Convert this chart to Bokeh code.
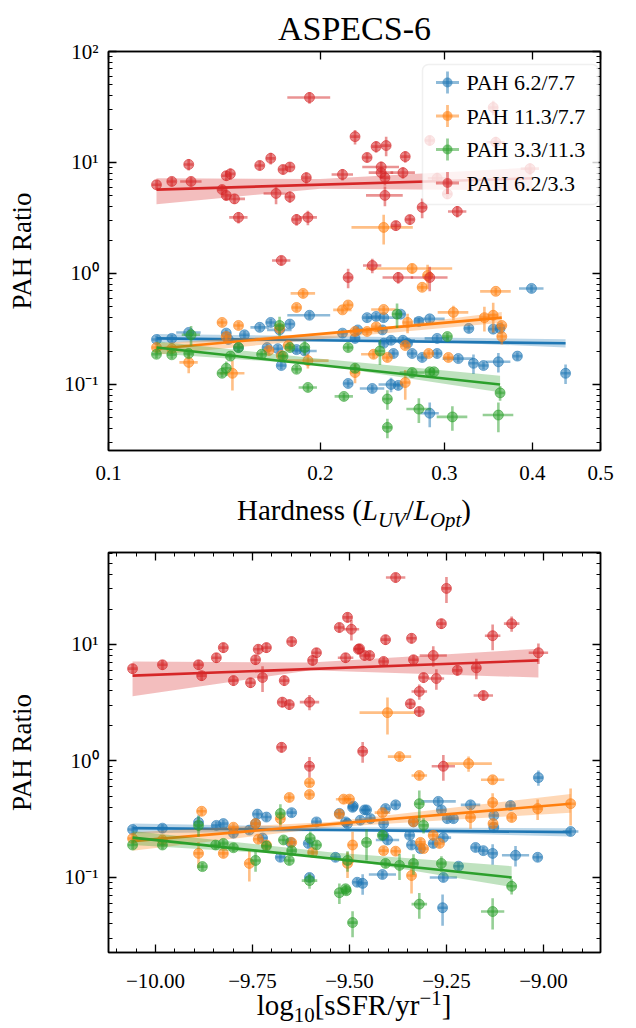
import numpy as np
from bokeh.plotting import figure
from bokeh.models import (FixedTicker, LinearAxis, BoxAnnotation, Range1d, Div, Label,
                          CustomJSTickFormatter, PrintfTickFormatter)
from bokeh.layouts import column
from bokeh.embed import file_html
from bokeh.resources import INLINE

SERIES = ["PAH 6.2/7.7", "PAH 11.3/7.7", "PAH 3.3/11.3", "PAH 6.2/3.3"]
COLORS = ["#1f77b4", "#ff7f0e", "#2ca02c", "#d62728"]

# ---------------- top panel : hardness (x), ratio (y); errors are relative ----------------
hx_b = [0.117,0.123,0.130,0.147,0.148,0.156,0.153,0.164,0.170,0.175, 0.181,0.193,0.168,0.174,0.176,0.185,0.190,0.219,0.224,0.215,
        0.233,0.240,0.246,0.260,0.286,0.276,0.245,0.252,0.246,0.262, 0.266,0.270,0.279,0.254,0.293,0.293,0.314,0.325,0.330,0.341,
        0.358,0.352,0.360,0.381,0.399,0.446,0.252,0.258,0.237,0.286, 0.226]
hy_b = [0.254,0.26,0.294,0.29,0.254,0.28,0.215,0.327,0.362,0.31, 0.35,0.42,0.215,0.21,0.148,0.206,0.20,0.102,0.26,0.29,
        0.40,0.41,0.40,0.43,0.39,0.37,0.31,0.25,0.235,0.25, 0.235,0.19,0.175,0.19,0.26,0.19,0.171,0.32,0.155,0.148,
        0.16,0.315,0.32,0.18,0.733,0.126,0.10,0.098,0.092,0.055, 0.31]
hxe_b = [0.015,0.015,0.04,0.015,0.015,0.015,0.015,0.03,0.015,0.04, 0.015,0.07,0.015,0.015,0.015,0.015,0.04,0.015,0.015,0.015,
         0.015,0.015,0.05,0.015,0.05,0.015,0.015,0.015,0.015,0.04, 0.015,0.015,0.015,0.015,0.04,0.015,0.05,0.015,0.015,0.015,
         0.04,0.015,0.015,0.015,0.04,0.015,0.04,0.015,0.04,0.03, 0.015]
hye_b = [0.08,0.08,0.08,0.08,0.08,0.08,0.08,0.08,0.08,0.08, 0.08,0.08,0.08,0.08,0.08,0.08,0.08,0.08,0.08,0.08,
         0.08,0.08,0.08,0.08,0.08,0.08,0.08,0.08,0.08,0.08, 0.08,0.08,0.08,0.08,0.08,0.08,0.08,0.08,0.2,0.08,
         0.2,0.08,0.08,0.08,0.08,0.2,0.15,0.08,0.08,0.25, 0.08]

hx_o = [0.145,0.153,0.185,0.189,0.215,0.219,0.147,0.117,0.123,0.130, 0.150,0.169,0.175,0.176,0.180,0.192,0.224,0.224,0.270,0.284,
        0.279,0.355,0.246,0.309,0.266,0.342,0.352,0.362,0.362,0.304, 0.285,0.249,0.238,0.264,0.264,0.233,0.240,0.246]
hy_o = [0.362,0.340,0.494,0.661,0.47,0.52,0.27,0.215,0.21,0.158, 0.126,0.202,0.32,0.182,0.224,0.164,0.128,0.30,1.11,0.96,
        0.75,0.69,0.474,0.446,0.362,0.40,0.42,0.34,0.27,0.175, 0.19,0.175,0.187,0.224,0.104,0.30,0.33,2.6]
hxe_o = [0.015,0.015,0.015,0.04,0.03,0.015,0.015,0.015,0.015,0.03, 0.04,0.015,0.015,0.015,0.015,0.07,0.015,0.015,0.14,0.015,
         0.015,0.05,0.04,0.05,0.015,0.015,0.015,0.015,0.015,0.015, 0.015,0.015,0.04,0.015,0.015,0.015,0.015,0.1]
hye_o = [0.08,0.08,0.08,0.08,0.08,0.08,0.08,0.08,0.08,0.2, 0.3,0.08,0.08,0.08,0.08,0.15,0.2,0.08,0.1,0.25,
         0.08,0.08,0.08,0.15,0.2,0.25,0.3,0.08,0.15,0.08, 0.08,0.08,0.08,0.08,0.3,0.08,0.08,0.3]

hx_g = [0.117,0.123,0.131,0.130,0.145,0.147,0.149,0.153,0.165,0.175, 0.177,0.181,0.185,0.190,0.192,0.219,0.216,0.257,0.303,0.243,
        0.270,0.286,0.290,0.249,0.276,0.308,0.358,0.360,0.249,0.224]
hy_g = [0.187,0.185,0.28,0.19,0.126,0.14,0.18,0.215,0.187,0.34, 0.18,0.215,0.137,0.215,0.094,0.215,0.078,0.43,0.27,0.20,
        0.128,0.13,0.13,0.074,0.06,0.051,0.053,0.084,0.041,0.14]
hxe_g = [0.015,0.015,0.03,0.015,0.015,0.015,0.015,0.015,0.015,0.015, 0.015,0.015,0.015,0.015,0.03,0.015,0.03,0.015,0.015,0.015,
         0.04,0.015,0.015,0.015,0.04,0.05,0.05,0.015,0.015,0.015]
hye_g = [0.08,0.08,0.2,0.08,0.08,0.15,0.08,0.08,0.08,0.2, 0.08,0.08,0.08,0.15,0.08,0.08,0.08,0.25,0.08,0.25,
         0.08,0.08,0.08,0.2,0.25,0.25,0.3,0.15,0.2,0.08]

hx_r = [0.193,0.224,0.117,0.123,0.130,0.131,0.145,0.147,0.149,0.147, 0.151,0.153,0.164,0.170,0.173,0.177,0.181,0.181,0.191,0.185,
        0.192,0.176,0.215,0.219,0.240,0.248,0.233,0.264,0.244,0.244, 0.247,0.262,0.247,0.256,0.268,0.279,0.313,0.286,0.352,0.355,
        0.293,0.303,0.397,0.237,0.258,0.286]
hy_r = [38.5,17.1,6.3,6.75,9.6,6.75,5.7,7.6,7.9,5.05, 4.7,3.2,9.4,10.9,5.26,8.65,9.1,4.9,7.3,3.06,
        3.2,1.31,7.8,0.92,13.9,14.2,11.1,11.3,9.1,8.1, 7.3,8.1,5.05,2.7,3.06,3.94,3.62,15.8,31.3,15.2,
        7.2,5.2,8.8,1.18,0.92,0.92]
hxe_r = [0.07,0.015,0.015,0.015,0.015,0.035,0.015,0.015,0.015,0.015, 0.035,0.03,0.015,0.015,0.04,0.015,0.015,0.015,0.015,0.015,
         0.03,0.03,0.035,0.015,0.015,0.015,0.015,0.015,0.06,0.04, 0.015,0.04,0.06,0.015,0.015,0.015,0.03,0.015,0.015,0.03,
         0.03,0.015,0.03,0.03,0.05,0.06]
hye_r = [0.12,0.15,0.1,0.1,0.12,0.1,0.1,0.1,0.12,0.1, 0.1,0.12,0.1,0.12,0.2,0.1,0.1,0.12,0.12,0.12,
         0.15,0.1,0.12,0.2,0.12,0.2,0.1,0.12,0.12,0.12, 0.15,0.12,0.2,0.1,0.1,0.2,0.12,0.1,0.15,0.12,
         0.12,0.1,0.12,0.15,0.12,0.25]

# fits (top)
hfit_x = [[0.117, 0.446], [0.117, 0.362], [0.117, 0.360], [0.117, 0.400]]
hfit_y = [[0.26, 0.235], [0.21, 0.40], [0.215, 0.10], [5.7, 7.2]]
hband_x = [[0.117, 0.25, 0.446], [0.117, 0.22, 0.362], [0.117, 0.20, 0.360], [0.117, 0.20, 0.400]]
hband_lo = [[0.238, 0.252, 0.215], [0.185, 0.27, 0.36], [0.19, 0.15, 0.085], [4.2, 5.8, 5.6]]
hband_hi = [[0.285, 0.268, 0.255], [0.235, 0.30, 0.45], [0.245, 0.17, 0.12], [7.2, 7.1, 9.0]]

# ---------------- bottom panel : log sSFR (x), ratio (y); x errors absolute, y relative ----------------
sx_b = [-10.059,-9.982,-9.889,-9.843,-9.825,-9.799,-9.758,-9.737,-9.714,-9.742, -9.649,-9.678,-9.652,-9.606,-9.603,-9.585,-9.526,-9.492,-9.505,-9.536,
        -9.480,-9.724,-9.013,-9.085,-9.188,-9.271,-9.381,-9.407,-9.461,-9.456, -9.490,-9.446,-9.472,-9.510,-9.263,-9.248,-9.232,-9.335,-9.412,-9.412,
        -9.402,-9.345,-9.340,-9.317,-9.284,-9.258,-9.175,-9.155,-9.131,-9.072, -9.015,-8.930,-9.128,-9.128,-9.415,-9.466,-9.258,-9.260,-9.219]
sy_b = [0.258,0.265,0.297,0.28,0.29,0.24,0.255,0.35,0.33,0.29, 0.36,0.149,0.20,0.196,0.10,0.30,0.355,0.40,0.29,0.149,
        0.091,0.218,0.72,0.415,0.42,0.45,0.42,0.39,0.38,0.38, 0.41,0.32,0.31,0.30,0.38,0.32,0.32,0.30,0.29,0.23,
        0.21,0.23,0.19,0.177,0.196,0.22,0.181,0.17,0.161,0.155, 0.149,0.248,0.34,0.27,0.106,0.089,0.10,0.055,0.125]
sxe_b = [0.012,0.012,0.012,0.012,0.012,0.012,0.012,0.012,0.012,0.012, 0.012,0.012,0.012,0.012,0.012,0.012,0.012,0.012,0.012,0.012,
         0.012,0.012,0.012,0.012,0.025,0.045,0.012,0.012,0.012,0.012, 0.012,0.012,0.012,0.012,0.012,0.012,0.012,0.012,0.012,0.012,
         0.03,0.012,0.012,0.012,0.012,0.02,0.012,0.012,0.012,0.035, 0.012,0.02,0.012,0.012,0.035,0.012,0.035,0.012,0.012]
sye_b = [0.08,0.08,0.15,0.08,0.08,0.08,0.08,0.08,0.08,0.08, 0.08,0.08,0.08,0.08,0.08,0.08,0.08,0.08,0.08,0.08,
         0.08,0.08,0.15,0.08,0.08,0.08,0.08,0.08,0.08,0.08, 0.08,0.08,0.08,0.08,0.08,0.08,0.08,0.08,0.08,0.08,
         0.08,0.08,0.08,0.08,0.08,0.08,0.08,0.08,0.2,0.2, 0.08,0.08,0.08,0.08,0.08,0.2,0.08,0.3,0.08]

sx_o = [-9.402,-9.371,-9.320,-9.193,-9.131,-9.603,-9.603,-9.655,-9.515,-9.500, -9.881,-9.678,-9.799,-9.742,-9.526,-10.059,-9.982,-9.735,-9.649,-9.889,
        -9.825,-9.758,-9.595,-9.505,-9.492,-9.714,-9.131,-9.082,-9.015,-8.930, -9.188,-9.130,-9.415,-9.335,-9.412,-9.381,-9.317,-9.309,-9.284,-9.268,
        -9.340]
sy_o = [2.6,1.09,0.75,0.95,0.69,0.65,0.515,0.486,0.47,0.47, 0.37,0.32,0.27,0.29,0.35,0.216,0.21,0.213,0.20,0.161,
        0.161,0.132,0.164,0.132,0.19,0.19,0.44,0.327,0.39,0.43, 0.327,0.29,0.36,0.30,0.17,0.168,0.20,0.177,0.23,0.196,
        0.104]
sxe_o = [0.072,0.03,0.02,0.06,0.03,0.012,0.012,0.012,0.02,0.012, 0.012,0.012,0.012,0.012,0.012,0.012,0.012,0.012,0.012,0.012,
         0.012,0.012,0.012,0.012,0.012,0.012,0.012,0.012,0.012,0.012, 0.012,0.012,0.02,0.012,0.012,0.012,0.012,0.012,0.012,0.012,
         0.012]
sye_o = [0.35,0.08,0.08,0.15,0.08,0.08,0.08,0.08,0.08,0.08, 0.08,0.15,0.08,0.08,0.08,0.08,0.08,0.08,0.08,0.25,
         0.08,0.3,0.08,0.25,0.3,0.08,0.2,0.08,0.2,0.35, 0.2,0.08,0.08,0.08,0.08,0.08,0.08,0.08,0.08,0.08,
         0.3]

sx_g = [-10.059,-9.982,-9.889,-9.879,-9.845,-9.825,-9.799,-9.742,-9.714,-9.678, -9.670,-9.655,-9.649,-9.603,-9.601,-9.585,-9.526,-9.508,-9.492,-9.505,
        -9.320,-9.309,-9.456,-9.415,-9.371,-9.335,-9.407,-9.263,-9.510,-9.320, -9.131,-9.082]
sy_g = [0.19,0.19,0.28,0.124,0.19,0.196,0.18,0.14,0.186,0.354, 0.21,0.14,0.17,0.094,0.216,0.19,0.074,0.077,0.041,0.14,
        0.43,0.28,0.20,0.23,0.127,0.132,0.132,0.132,0.08,0.059, 0.051,0.084]
sxe_g = [0.012,0.012,0.012,0.012,0.012,0.012,0.012,0.012,0.012,0.012, 0.012,0.012,0.012,0.02,0.012,0.012,0.012,0.012,0.012,0.012,
         0.012,0.012,0.012,0.012,0.012,0.012,0.012,0.012,0.012,0.02, 0.03,0.012]
sye_g = [0.08,0.08,0.2,0.08,0.08,0.08,0.08,0.2,0.08,0.2, 0.08,0.08,0.08,0.15,0.15,0.08,0.2,0.08,0.25,0.2,
         0.3,0.15,0.3,0.08,0.25,0.2,0.08,0.15,0.08,0.25, 0.3,0.15]

sx_r = [-10.059,-9.982,-9.889,-9.881,-9.843,-9.825,-9.799,-9.755,-9.742,-9.735, -9.714,-9.724,-9.668,-9.673,-9.655,-9.649,-9.595,-9.585,-9.603,-9.675,
        -9.603,-9.526,-9.505,-9.495,-9.510,-9.477,-9.381,-9.250,-9.263,-9.082, -9.131,-9.407,-9.340,-9.474,-9.461,-9.448,-9.412,-9.335,-9.284,-9.013,
        -9.309,-9.276,-9.222,-9.173,-9.320,-9.155,-9.343,-9.320,-9.466,-9.258]
sy_r = [6.2,6.7,6.7,5.4,7.7,9.4,4.9,4.7,7.4,9.1, 9.4,5.2,4.9,3.2,3.05,10.6,7.3,8.5,3.2,1.31,
        0.90,14.0,17.1,13.5,7.7,9.1,37.6,30.3,15.1,15.1, 11.9,11.0,11.3,9.2,8.05,8.05,7.15,7.4,8.05,8.5,
        5.2,5.1,6.0,6.3,3.95,3.65,3.1,2.66,1.21,0.90]
sxe_r = [0.012,0.012,0.012,0.012,0.012,0.012,0.012,0.012,0.012,0.012, 0.012,0.012,0.012,0.012,0.012,0.012,0.012,0.012,0.025,0.012,
         0.012,0.012,0.012,0.02,0.02,0.012,0.025,0.012,0.012,0.02, 0.02,0.012,0.012,0.012,0.012,0.012,0.012,0.012,0.035,0.025,
         0.012,0.02,0.012,0.012,0.02,0.025,0.012,0.012,0.012,0.03]
sye_r = [0.1,0.1,0.1,0.1,0.1,0.1,0.1,0.1,0.1,0.1, 0.1,0.25,0.1,0.1,0.1,0.1,0.1,0.1,0.15,0.1,
         0.2,0.1,0.1,0.2,0.1,0.1,0.1,0.25,0.1,0.15, 0.25,0.1,0.1,0.1,0.1,0.1,0.1,0.1,0.2,0.2,
         0.1,0.2,0.1,0.2,0.15,0.1,0.1,0.1,0.2,0.25]

sfit_x = [[-10.059, -8.930], [-10.059, -8.930], [-10.059, -9.082], [-10.059, -9.013]]
sfit_y = [[0.265, 0.245], [0.205, 0.43], [0.22, 0.10], [5.4, 7.3]]
sband_x = [[-10.059, -9.5, -8.930], [-10.059, -9.55, -8.930], [-10.059, -9.55, -9.082], [-10.059, -9.6, -9.013]]
sband_lo = [[0.24, 0.25, 0.225], [0.17, 0.27, 0.36], [0.19, 0.15, 0.083], [3.6, 6.0, 5.2]]
sband_hi = [[0.29, 0.27, 0.265], [0.245, 0.30, 0.52], [0.25, 0.165, 0.125], [7.15, 7.0, 9.2]]

HARD_TICKS = [0.1, 0.2, 0.3, 0.4, 0.5]
SSFR_TICKS = [-10.0, -9.75, -9.5, -9.25, -9.0]
Y_TICKS = [0.1, 1, 10, 100]

TITLE = "ASPECS-6"
YLABEL = "PAH Ratio"
XLABEL_TOP = "Hardness (<i>L</i><sub><i>UV</i></sub>/<i>L</i><sub><i>Opt</i></sub>)"
XLABEL_BOT = "log<sub>10</sub>[sSFR/yr<sup>\u22121</sup>]"

FONT = "Liberation Serif"

# ---------------------------------------------------------------------------------------------
SUP_JS = """
const sup = {"-": "\u207b", "0": "\u2070", "1": "\u00b9", "2": "\u00b2", "3": "\u00b3"};
const e = Math.round(Math.log10(tick));
return "10" + String(e).split("").map(c => sup[c]).join("");
"""
BLANK_JS = "return '';"
MINUS_JS = "return (tick < 0 ? '\u2212' : '') + Math.abs(tick).toFixed(2);"


def style_axis(ax, ticker, formatter, labels=True, standoff=10):
    ax.ticker = ticker
    ax.formatter = formatter if labels else CustomJSTickFormatter(code=BLANK_JS)
    ax.major_tick_in = 8
    ax.major_tick_out = 0
    ax.minor_tick_in = 4
    ax.minor_tick_out = 0
    ax.major_tick_line_width = 1.3
    ax.minor_tick_line_width = 1.0
    ax.axis_line_width = 1.5
    ax.major_label_text_font = FONT
    ax.major_label_text_color = "black"
    ax.major_label_text_font_size = "21px"
    ax.major_label_standoff = standoff if labels else 0


def draw_series(p, x, y, xe, ye, color, rel_x):
    x = np.asarray(x, float); y = np.asarray(y, float)
    xe = np.asarray(xe, float); ye = np.asarray(ye, float)
    if rel_x:
        x0, x1 = x * (1 - xe), x * (1 + xe)
    else:
        x0, x1 = x - xe, x + xe
    y0, y1 = y * (1 - ye), y * (1 + ye)
    p.segment(x0=x0, y0=y, x1=x1, y1=y, line_color=color, line_alpha=0.5, line_width=2.6)
    p.segment(x0=x, y0=y0, x1=x, y1=y1, line_color=color, line_alpha=0.5, line_width=2.6)
    p.scatter(x=x, y=y, size=10, marker="circle", fill_color=color, fill_alpha=0.55,
              line_color=color, line_alpha=0.55, line_width=1)


def draw_fit(p, fx, fy, bx, lo, hi, color):
    p.varea(x=bx, y1=lo, y2=hi, fill_color=color, fill_alpha=0.3)
    p.line(x=fx, y=fy, line_color=color, line_width=2.6)


def base_fig(height, btop, bbottom, xtype, xr, yr):
    p = figure(width=636, height=height, x_axis_type=xtype, y_axis_type="log",
               x_range=Range1d(*xr), y_range=Range1d(*yr), output_backend="svg",
               toolbar_location=None, min_border_left=108, min_border_right=36,
               min_border_top=btop, min_border_bottom=bbottom)
    p.grid.visible = False
    p.outline_line_color = "black"
    p.outline_line_width = 1.5
    p.background_fill_color = "white"
    p.border_fill_color = "white"
    p.yaxis[0].axis_label = YLABEL
    p.yaxis[0].axis_label_text_font = FONT
    p.yaxis[0].axis_label_text_font_style = "normal"
    p.yaxis[0].axis_label_text_font_size = "27px"
    p.yaxis[0].axis_label_text_color = "black"
    p.yaxis[0].axis_label_standoff = 24
    return p


def label_div(html, height, line_height, top_margin=0):
    css = ("<style>sub{font-size:0.72em;vertical-align:-0.32em;line-height:0;}"
           " sup{font-size:0.72em;vertical-align:0.5em;line-height:0;}</style>")
    return Div(text=css + html, width=492, height=height, margin=(top_margin, 0, 0, 108),
               styles={"font-family": FONT, "font-size": "29px", "text-align": "center",
                       "line-height": f"{line_height}px", "color": "black", "white-space": "nowrap",
                       "overflow": "visible"})


y_minor = [m * 10.0 ** e for e in range(-2, 2) for m in range(2, 10)]

# ---------------- top figure ----------------
p1 = base_fig(495, 51, 45, "log", (0.1, 0.5), (0.0254, 100))
p1.title.text = TITLE
p1.title.align = "center"
p1.title.text_font = FONT
p1.title.text_font_size = "34px"
p1.title.text_font_style = "normal"
p1.title.text_color = "black"
hx_ticker = FixedTicker(ticks=HARD_TICKS, minor_ticks=[])
hy_ticker = FixedTicker(ticks=Y_TICKS, minor_ticks=y_minor)
style_axis(p1.xaxis[0], hx_ticker, PrintfTickFormatter(format="%.1f"), standoff=15)
style_axis(p1.yaxis[0], hy_ticker, CustomJSTickFormatter(code=SUP_JS))
ax_t = LinearAxis(); style_axis(ax_t, hx_ticker, None, labels=False)
ax_r = LinearAxis(); style_axis(ax_r, hy_ticker, None, labels=False)
p1.add_layout(ax_t, "above")
p1.add_layout(ax_r, "right")

top_data = [(hx_b, hy_b, hxe_b, hye_b), (hx_o, hy_o, hxe_o, hye_o), (hx_g, hy_g, hxe_g, hye_g), (hx_r, hy_r, hxe_r, hye_r)]
for i, (x, y, xe, ye) in enumerate(top_data):
    draw_series(p1, x, y, xe, ye, COLORS[i], True)
    draw_fit(p1, hfit_x[i], hfit_y[i], hband_x[i], hband_lo[i], hband_hi[i], COLORS[i])

# legend, drawn by hand inside the frame (errorbar-style handles)
LEG_L, LEG_R, LEG_T, LEG_B = 314, 490, 386, 246
p1.add_layout(BoxAnnotation(left=LEG_L, right=LEG_R, top=LEG_T, bottom=LEG_B, left_units="screen",
                            right_units="screen", top_units="screen", bottom_units="screen",
                            fill_color="white", fill_alpha=0.8, line_color="#cccccc", line_width=1.5,
                            border_radius=6, level="overlay"))
gx = 339
for i, name in enumerate(SERIES):
    cy = 368 - i * 33.5
    for (l, r, b, t, a, br) in [(gx - 11.5, gx + 11.5, cy - 1.4, cy + 1.4, 0.5, 0),
                                (gx - 1.4, gx + 1.4, cy - 11, cy + 11, 0.5, 0),
                                (gx - 5, gx + 5, cy - 5, cy + 5, 0.6, 5)]:
        p1.add_layout(BoxAnnotation(left=l, right=r, bottom=b, top=t, left_units="screen", right_units="screen",
                                    top_units="screen", bottom_units="screen", fill_color=COLORS[i],
                                    fill_alpha=a, line_alpha=0, border_radius=br, level="overlay"))
    p1.add_layout(Label(x=358, y=cy, x_units="screen", y_units="screen", text=name, text_font=FONT,
                        text_font_size="22px", text_align="left", text_baseline="middle",
                        text_color="black", level="overlay"))

# ---------------- bottom figure ----------------
p2 = base_fig(470, 22, 48, "linear", (-10.121, -8.853), (0.0227, 61.6))
sx_ticker = FixedTicker(ticks=SSFR_TICKS, minor_ticks=[round(-10.10 + 0.05 * k, 2) for k in range(26)])
sy_ticker = FixedTicker(ticks=Y_TICKS, minor_ticks=y_minor)
style_axis(p2.xaxis[0], sx_ticker, CustomJSTickFormatter(code=MINUS_JS), standoff=21)
style_axis(p2.yaxis[0], sy_ticker, CustomJSTickFormatter(code=SUP_JS))
ax_t2 = LinearAxis(); style_axis(ax_t2, sx_ticker, None, labels=False)
ax_r2 = LinearAxis(); style_axis(ax_r2, sy_ticker, None, labels=False)
p2.add_layout(ax_t2, "above")
p2.add_layout(ax_r2, "right")

bot_data = [(sx_b, sy_b, sxe_b, sye_b), (sx_o, sy_o, sxe_o, sye_o), (sx_g, sy_g, sxe_g, sye_g), (sx_r, sy_r, sxe_r, sye_r)]
for i, (x, y, xe, ye) in enumerate(bot_data):
    draw_series(p2, x, y, xe, ye, COLORS[i], False)
    draw_fit(p2, sfit_x[i], sfit_y[i], sband_x[i], sband_lo[i], sband_hi[i], COLORS[i])

d1 = label_div(XLABEL_TOP, 35, 30)
d2 = label_div(XLABEL_BOT, 38, 30, top_margin=-10)

layout = column(p1, d1, p2, d2, spacing=0)
open("out.html", "w").write(file_html(layout, INLINE))
